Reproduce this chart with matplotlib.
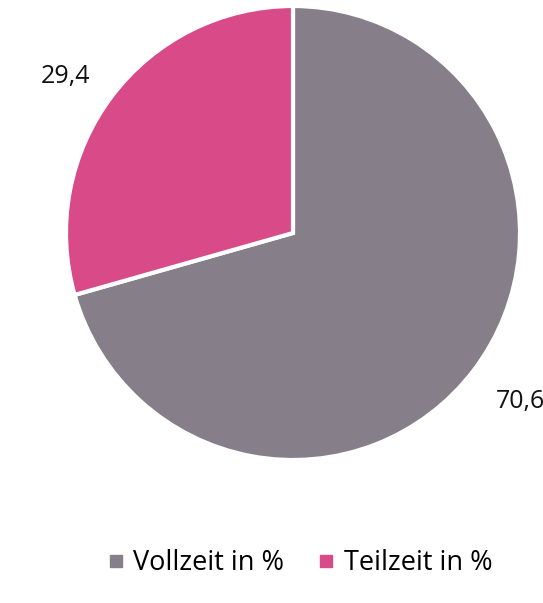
import matplotlib.pyplot as plt
from matplotlib.lines import Line2D

categories = ["Vollzeit in %", "Teilzeit in %"]
values = [70.6, 29.4]
colors = ["#867e89", "#d84a88"]
# small nudges for the value labels (pixels)
label_offsets = [(5, 0), (-5, -12)]

plt.rcParams["font.family"] = ["Open Sans", "DejaVu Sans"]

fig = plt.figure(figsize=(5.43, 6.03), dpi=100)
ax = fig.add_axes([0, 0, 1, 1])
ax.set_xlim(0, 543)
ax.set_ylim(0, 603)
ax.set_aspect("equal")
ax.axis("off")

labels = [f"{v:.1f}".replace(".", ",") for v in values]
wedges, texts = ax.pie(
    values, colors=colors, startangle=90, counterclock=False,
    center=(293, 370), radius=227, labels=labels, labeldistance=1.23,
    wedgeprops=dict(edgecolor="white", linewidth=3),
    textprops=dict(fontsize=18, color="#111111"),
)
for t, (dx, dy) in zip(texts, label_offsets):
    x, y = t.get_position()
    t.set_position((x + dx, y + dy))
    t.set_ha("center")
    t.set_va("center")
    t.set_clip_on(False)
ax.set_xlim(0, 543)
ax.set_ylim(0, 603)

handles = [Line2D([], [], marker="s", linestyle="none", markersize=9,
                  markerfacecolor=c, markeredgecolor=c) for c in colors]
fig.legend(handles, categories, loc="center", bbox_to_anchor=(300 / 543, 1 - 563 / 603),
           ncol=2, frameon=False, fontsize=19.5, handlelength=0.6, handletextpad=0.35,
           columnspacing=1.25)

fig.savefig("out.png", dpi=100)
